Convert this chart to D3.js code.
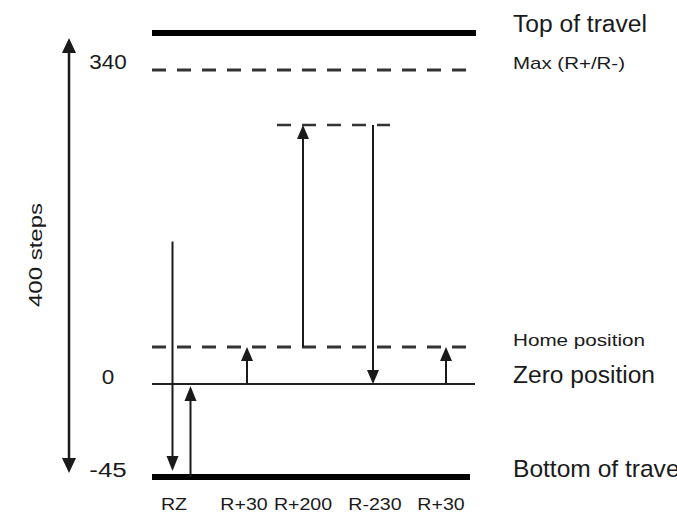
<!DOCTYPE html>
<html>
<head>
<meta charset="utf-8">
<script src="https://cdn.jsdelivr.net/npm/d3@7"></script>
<style>
  html, body { margin: 0; padding: 0; background: #fff; overflow: hidden; }
  svg { display: block; }
  text { font-family: "Liberation Sans", Arial, Helvetica, sans-serif; fill: #1a1a1a; }
</style>
</head>
<body>
<svg id="chart" width="677" height="515"></svg>
<script>
// ---- data ----
const levelNames = ["Top of travel", "Max (R+/R-)", "Home position", "Zero position", "Bottom of travel"];
const levelSteps = [355, 340, 30, 0, -45];
const tickLabels = ["340", "0", "-45"];
const tickSteps = [340, 0, -45];
const moveLabels = ["RZ", "R+30", "R+200", "R-230", "R+30"];
const moveFrom = [125, 0, 30, 230, 0];
const moveVia = [-45, null, null, null, null];
const moveTo = [0, 30, 230, 0, 30];
const peakStep = 230;
const travelLabel = "400 steps";

// ---- layout / styles ----
const svg = d3.select("#chart");
// schematic (not to scale) step axis: piecewise linear scale
const y = d3.scaleLinear()
  .domain([-45, 0, 30, 230, 340, 355])
  .range([477, 384, 347, 125, 70, 33]);
const x = d3.scaleLinear()
  .domain([0, 1, 2, 3, 4])
  .range([181, 247, 303, 373, 446]);

const lineStyle = {
  "Top of travel":   { w: 6, dash: null, col: "#000", x0: 152, x1: 476, size: 23, len: 134, dy: -1 },
  "Max (R+/R-)":     { w: 3, dash: "14,11", col: "#333", x0: 152, x1: 476, size: 17, len: 112, dy: -1 },
  "Home position":   { w: 3, dash: "14,11", col: "#333", x0: 152, x1: 476, size: 16, len: 132, dy: -1 },
  "Zero position":   { w: 2, dash: null, col: "#222", x0: 152, x1: 475, size: 23, len: 142, dy: -1 },
  "Bottom of travel":{ w: 6, dash: null, col: "#000", x0: 152, x1: 470, size: 24, len: 172, dy: 0 }
};

const ink = "#1a1a1a";

// level lines
levelNames.forEach((name, i) => {
  const s = lineStyle[name];
  const yy = y(levelSteps[i]);
  svg.append("line")
    .attr("x1", s.x0).attr("x2", s.x1)
    .attr("y1", yy).attr("y2", yy)
    .attr("stroke", s.col).attr("stroke-width", s.w)
    .attr("stroke-dasharray", s.dash);
  svg.append("text")
    .attr("x", 513).attr("y", yy + s.dy)
    .attr("font-size", s.size)
    .attr("textLength", s.len)
    .attr("lengthAdjust", "spacingAndGlyphs")
    .text(name);
});

// peak dashed line (R+200 / R-230 turning point)
svg.append("line")
  .attr("x1", x(2) - 26).attr("x2", x(3) + 17)
  .attr("y1", y(peakStep)).attr("y2", y(peakStep))
  .attr("stroke", "#333").attr("stroke-width", 2.5)
  .attr("stroke-dasharray", "14,11");

// arrow helper: shaft from (xx, ya) to tip at (xx, yb)
function arrow(xx, ya, yb, hw = 6, hl = 14, sw = 2) {
  const dir = yb > ya ? 1 : -1;
  const base = yb - dir * hl;
  svg.append("line")
    .attr("x1", xx).attr("x2", xx)
    .attr("y1", ya).attr("y2", base)
    .attr("stroke", ink).attr("stroke-width", sw);
  svg.append("path")
    .attr("d", d3.line()([[xx - hw, base], [xx, yb], [xx + hw, base]]) + "Z")
    .attr("fill", ink);
}

// moves
const labelNudge = [-7, -3, 0, 2, -5];
moveLabels.forEach((lab, i) => {
  const cx = x(i);
  if (moveVia[i] !== null) {
    // down to bottom, then up to zero
    arrow(cx - 8.5, y(moveFrom[i]), y(moveVia[i]) - 6, 6, 15);
    arrow(cx + 9.5, y(moveVia[i]), y(moveTo[i]) + 2, 6, 15);
  } else {
    arrow(cx, y(moveFrom[i]), y(moveTo[i]), 6, 14);
  }
  const t = svg.append("text")
    .attr("x", cx + labelNudge[i])
    .attr("y", 510)
    .attr("text-anchor", "middle")
    .attr("font-size", 17)
    .text(lab);
  const w = t.node().getComputedTextLength();
  t.attr("textLength", w * 1.15).attr("lengthAdjust", "spacingAndGlyphs");
});

// left full-travel double arrow
const lx = 69;
const yTop = y(levelSteps[0]) + 5, yBot = y(levelSteps[4]) - 4;
svg.append("line")
  .attr("x1", lx).attr("x2", lx)
  .attr("y1", yTop + 14).attr("y2", yBot - 14)
  .attr("stroke", ink).attr("stroke-width", 2.5);
svg.append("path").attr("d", d3.line()([[lx - 7, yTop + 15], [lx, yTop], [lx + 7, yTop + 15]]) + "Z").attr("fill", ink);
svg.append("path").attr("d", d3.line()([[lx - 7, yBot - 15], [lx, yBot], [lx + 7, yBot - 15]]) + "Z").attr("fill", ink);

// tick labels
tickLabels.forEach((t, i) => {
  svg.append("text")
    .attr("x", 108)
    .attr("y", y(tickSteps[i]) + (tickSteps[i] === 340 ? -1 : 0))
    .attr("text-anchor", "middle")
    .attr("font-size", 20)
    .attr("textLength", t.length * 12.5)
    .attr("lengthAdjust", "spacingAndGlyphs")
    .text(t);
});

// axis label
svg.append("text")
  .attr("transform", "translate(42,255) rotate(-90)")
  .attr("text-anchor", "middle")
  .attr("font-size", 19)
  .attr("textLength", 104)
  .attr("lengthAdjust", "spacingAndGlyphs")
  .text(travelLabel);
</script>
</body>
</html>
